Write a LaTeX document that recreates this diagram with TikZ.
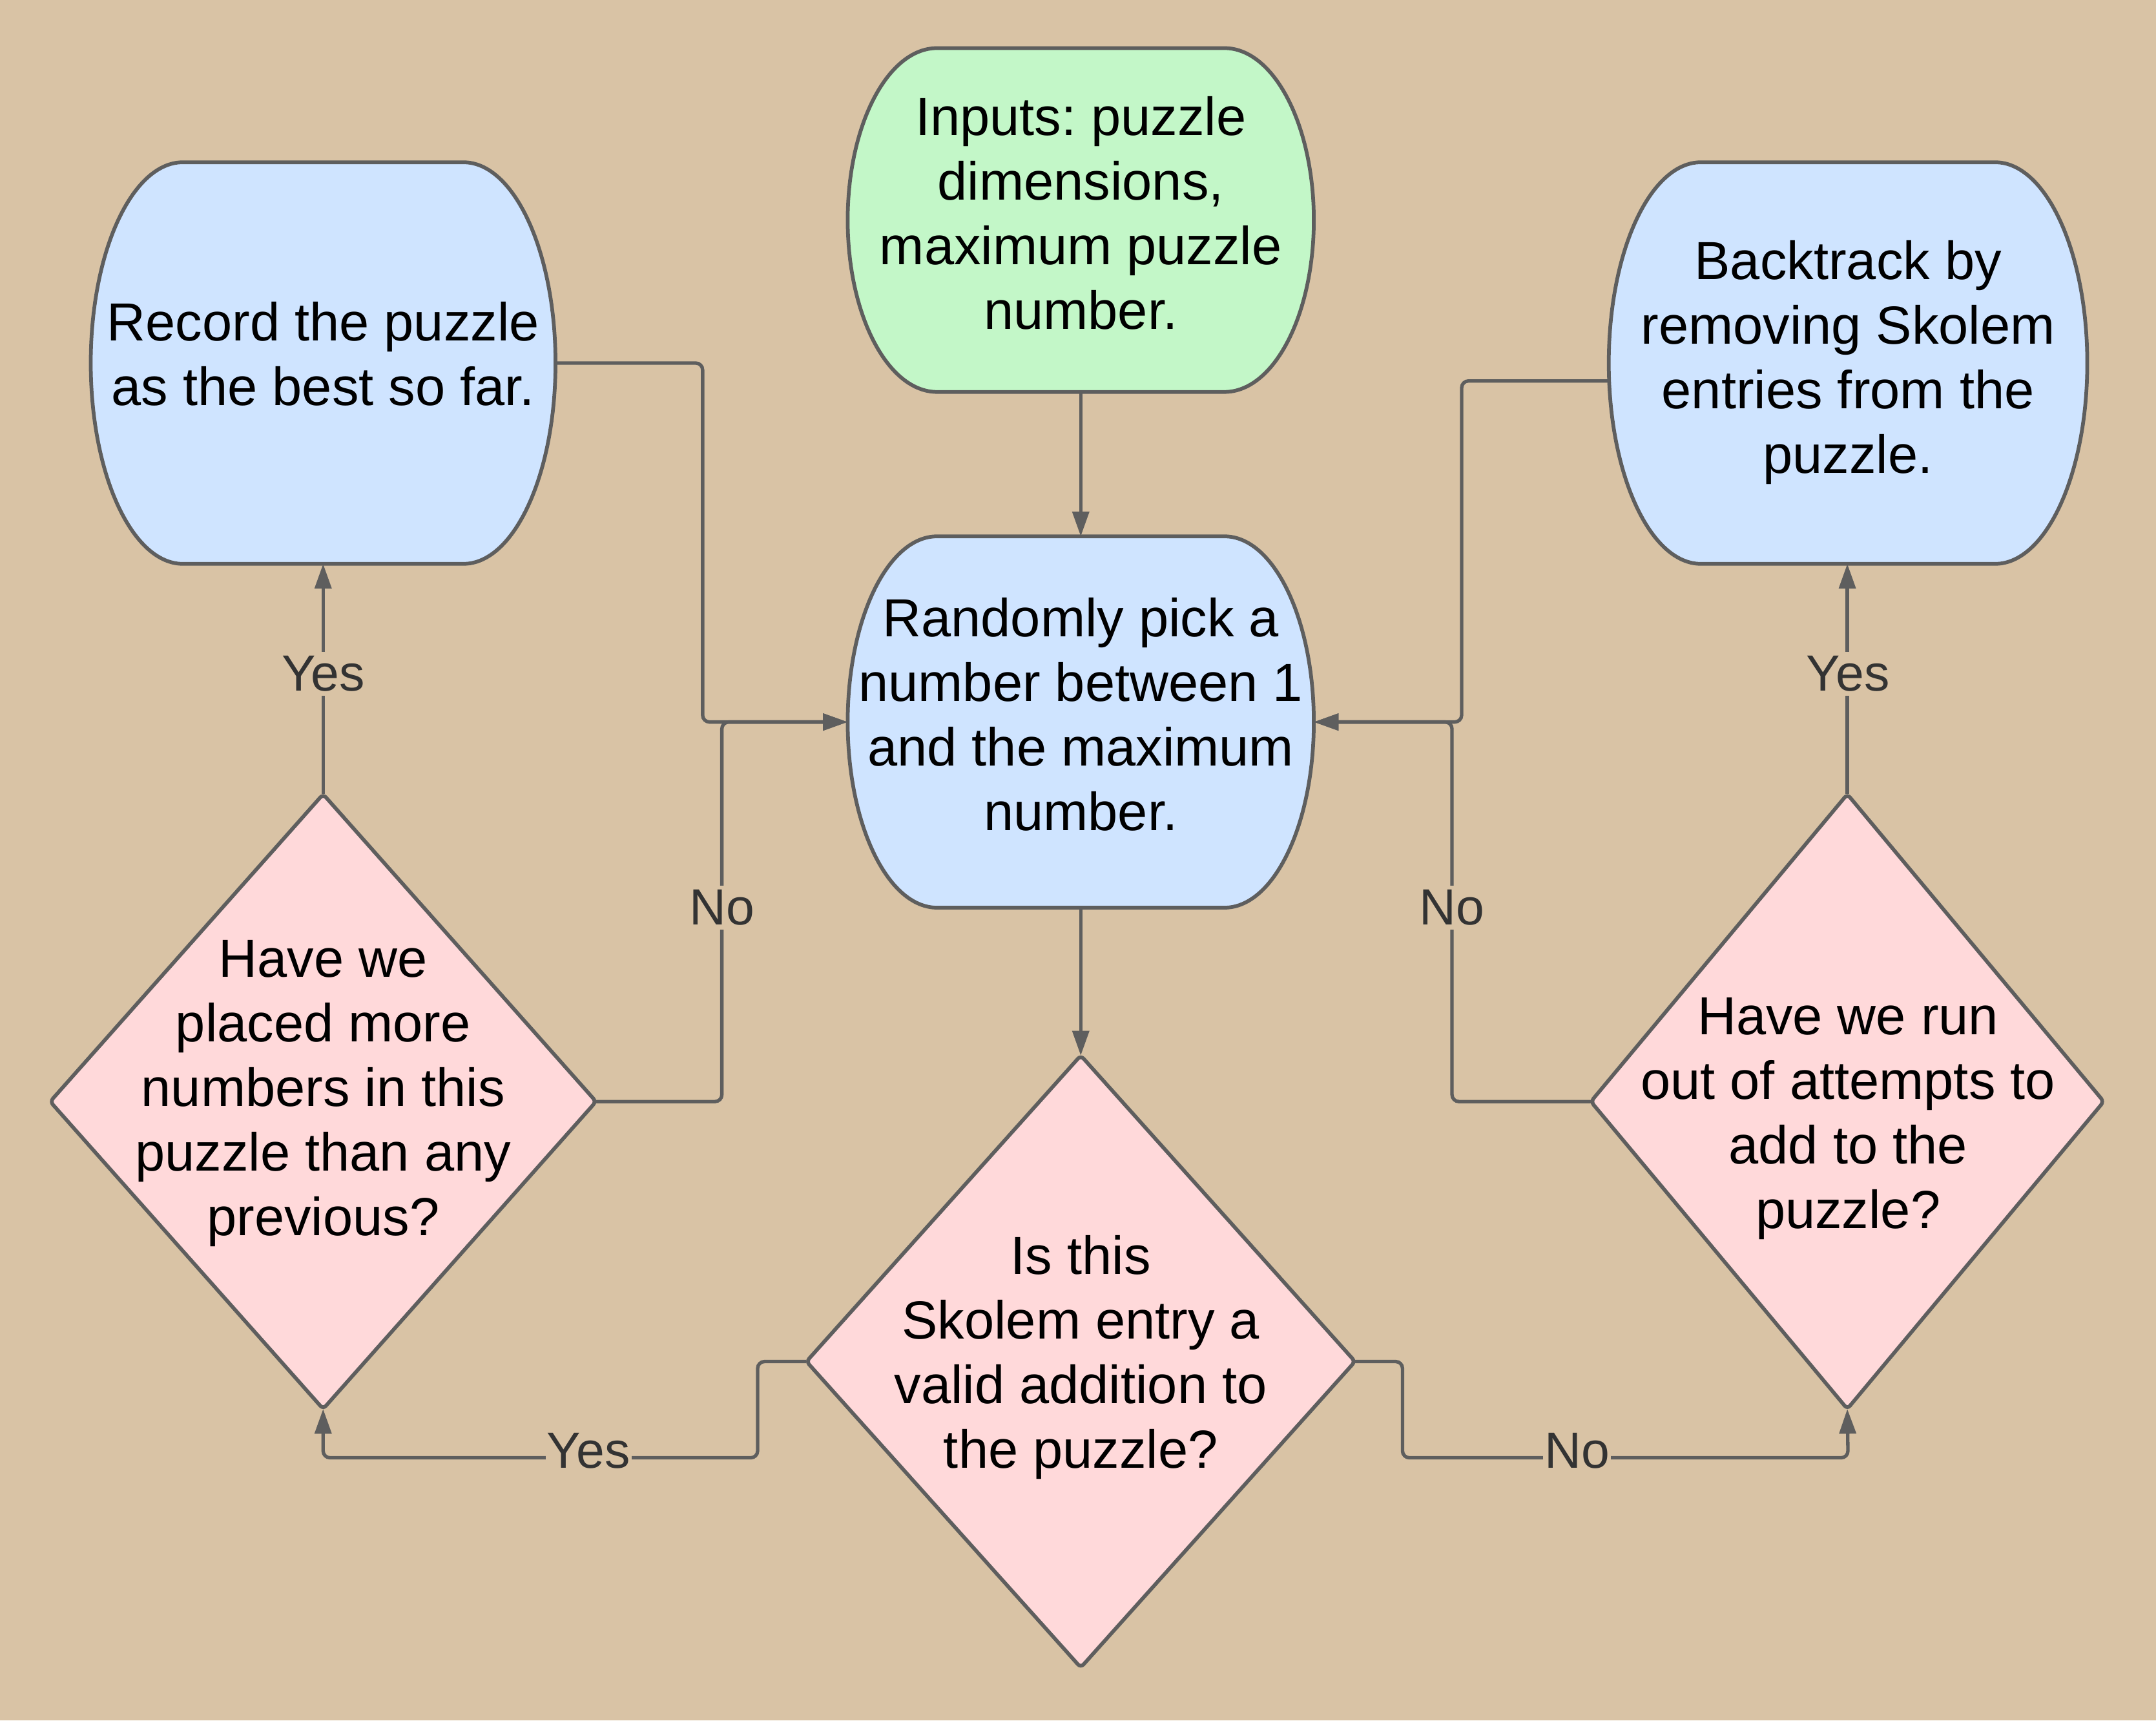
\documentclass[tikz,border=0pt]{standalone}
\usepackage{fontspec}
\setmainfont{Liberation Sans}
\frenchspacing
\usetikzlibrary{shapes.geometric,arrows.meta,calc}
\definecolor{bg}{HTML}{D9C3A5}
\definecolor{gfill}{HTML}{C3F7C8}
\definecolor{bfill}{HTML}{CFE4FF}
\definecolor{pfill}{HTML}{FFD9DA}
\definecolor{strokec}{HTML}{5E5E5E}
\definecolor{lblc}{HTML}{333333}
\newcommand\bulgeline[3]{%
 \draw[outline,fill=#3] let \p1=(#1.north east), \p2=(#1.south west),
   \n1={(\y1-\y2)/2} in
   (\x2+#2,\y1) -- (\x1-#2,\y1) arc[start angle=90, end angle=-90, x radius=#2pt, y radius=\n1]
   -- (\x2+#2,\y2) arc[start angle=270, end angle=90, x radius=#2pt, y radius=\n1] -- cycle;}
\begin{document}
\begin{tikzpicture}[x=1pt,y=1pt,
  bulge/.style={rectangle,draw=none,inner sep=0pt,outer sep=0pt},
  outline/.style={draw=strokec,line width=2.7pt,line join=round},
  dia/.style={diamond,draw=strokec,line width=2.7pt,fill=pfill,inner sep=0pt,outer sep=0pt,rounded corners=3pt},
  txt/.style={align=center,font=\fontsize{39}{47}\selectfont,text=black,inner sep=0pt},
  conn/.style={draw=strokec,line width=2.5pt,rounded corners=5pt,-{Triangle[length=18pt,width=12pt]}},
  lab/.style={fill=bg,text=lblc,font=\fontsize{37}{44}\selectfont,inner xsep=1pt,inner ysep=3pt}]
\fill[bg] (0,0) rectangle (1568,1251);
\useasboundingbox (0,0) rectangle (1568,1251);
% box anchors
\node[bulge,minimum width=339,minimum height=250] (inp) at (786,1091) {};
\node[bulge,minimum width=339,minimum height=270] (rand) at (786,726) {};
\node[bulge,minimum width=338,minimum height=292] (rec) at (235,987) {};
\node[bulge,minimum width=348,minimum height=292] (back) at (1344,987) {};
\bulgeline{inp}{65}{gfill}
\bulgeline{rand}{65}{bfill}
\bulgeline{rec}{67}{bfill}
\bulgeline{back}{67}{bfill}
% diamonds
\node[dia,minimum width=399,minimum height=445] (valid) at (786,261) {};
\node[dia,minimum width=397,minimum height=447] (more) at (235,450) {};
\node[dia,minimum width=373,minimum height=447] (out) at (1343.5,450) {};
% texts
\node[txt] (inpT) at (786,1096) {Inputs: puzzle\\dimensions,\\maximum puzzle\\number.};
\node[txt] (randT) at (786,731.5) {Randomly pick a\\number between 1\\and the maximum\\number.};
\node[txt] (recT) at (235,993.5) {Record the puzzle\\as the best so far.};
\node[txt] (backT) at (1344,987.5) {Backtrack by\\removing Skolem\\entries from the\\puzzle.};
\node[txt] (validT) at (786,264) {Is this\\Skolem entry a\\valid addition to\\the puzzle?};
\node[txt] (moreT) at (235,456) {Have we\\placed more\\numbers in this\\puzzle than any\\previous?};
\node[txt] (outT) at (1344,437.5) {Have we run\\out of attempts to\\add to the\\puzzle?};
% connectors
\draw[conn] (inp.south) -- (rand.north);
\draw[conn] (rand.south) -- (valid.north);
\draw[conn] (valid.west) -- (551,261) -- (551,191) -- (235,191) -- (more.south);
\draw[conn] (valid.east) -- (1020,261) -- (1020,191) -- (1344,191) -- (out.south);
\draw[conn] (more.north) -- (rec.south);
\draw[conn] (out.north) -- (back.south -| out.north);
\draw[conn] (more.east) -- (525,450) -- (525,726) -- (rand.west);
\draw[conn] (rec.east) -- (511,987) -- (511,726) -- (rand.west);
\draw[conn] (out.west) -- (1056,450) -- (1056,726) -- (rand.east);
\draw[conn] ($(back.west)+(0,-13)$) -- (1063,974) -- (1063,726) -- (rand.east);
% labels
\node[lab] (l1) at (428,196) {Yes};
\node[lab] (l2) at (1147,196) {No};
\node[lab] (l3) at (235,761) {Yes};
\node[lab] (l4) at (1344,761) {Yes};
\node[lab] (l5) at (525,591) {No};
\node[lab] (l6) at (1056,591) {No};
\end{tikzpicture}
\end{document}
